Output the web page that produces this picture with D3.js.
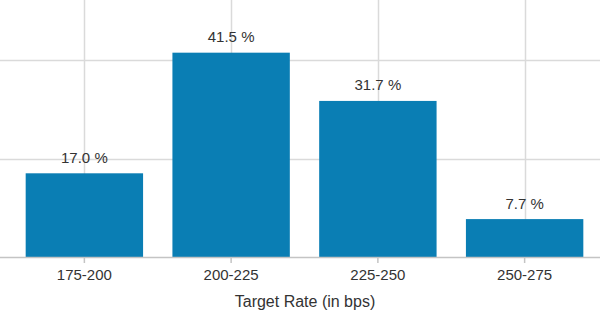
<!DOCTYPE html>
<html>
<head>
<meta charset="utf-8">
<script src="https://cdn.jsdelivr.net/npm/d3@7"></script>
<style>
  body { margin: 0; background: #fff; }
  text { font-family: "Liberation Sans", Arial, sans-serif; fill: #333; }
</style>
</head>
<body>
<script>
var categories = ["175-200", "200-225", "225-250", "250-275"];
var values = [17.0, 41.5, 31.7, 7.7];   // probability, percent
var gridValues = [20, 40];
var xTitle = "Target Rate (in bps)";

var width = 600, height = 318;
var baseY = 257;

var svg = d3.select("body").append("svg")
    .attr("width", width)
    .attr("height", height);

var x = d3.scaleBand()
    .domain(categories)
    .range([11, 598])
    .paddingInner(0.2)
    .paddingOuter(0.1);

var y = d3.scaleLinear()
    .domain([0, 52.2])
    .range([baseY, 0]);

// horizontal grid
svg.append("g")
    .selectAll("line")
    .data(gridValues)
    .enter().append("line")
    .attr("x1", 0).attr("x2", width)
    .attr("y1", function(d){ return Math.round(y(d)) + 0.5; })
    .attr("y2", function(d){ return Math.round(y(d)) + 0.5; })
    .attr("stroke", "#dadada")
    .attr("stroke-width", 1.5);

// vertical grid at category centres
svg.append("g")
    .selectAll("line")
    .data(categories)
    .enter().append("line")
    .attr("x1", function(d){ return Math.round(x(d) + x.bandwidth()/2) + 0.5; })
    .attr("x2", function(d){ return Math.round(x(d) + x.bandwidth()/2) + 0.5; })
    .attr("y1", 0).attr("y2", baseY)
    .attr("stroke", "#dadada")
    .attr("stroke-width", 1.5);

// bars
svg.append("g")
    .selectAll("rect")
    .data(values)
    .enter().append("rect")
    .attr("x", function(d, i){ return x(categories[i]); })
    .attr("width", x.bandwidth())
    .attr("y", function(d){ return y(d); })
    .attr("height", function(d){ return baseY - y(d); })
    .attr("fill", "#0a7eb4");

// value labels
svg.append("g")
    .selectAll("text")
    .data(values)
    .enter().append("text")
    .attr("x", function(d, i){ return x(categories[i]) + x.bandwidth()/2; })
    .attr("y", function(d){ return y(d) - 10.5; })
    .attr("text-anchor", "middle")
    .style("font-size", "15px")
    .text(function(d){ return d.toFixed(1) + " %"; });

// x axis
var xAxis = svg.append("g")
    .attr("transform", "translate(0," + baseY + ")")
    .call(d3.axisBottom(x).tickSize(6).tickPadding(6));
xAxis.select(".domain").remove();
xAxis.append("line")
    .attr("x1", 0).attr("x2", width)
    .attr("y1", 0.5).attr("y2", 0.5)
    .attr("stroke", "#c4c4c4")
    .attr("stroke-width", 1.5);
xAxis.selectAll(".tick line").attr("stroke", "#c4c4c4").attr("stroke-width", 1.5);
xAxis.selectAll(".tick text")
    .style("font-size", "15px")
    .style("font-family", "'Liberation Sans', Arial, sans-serif")
    .attr("fill", "#333");

svg.append("text")
    .attr("x", 305)
    .attr("y", 306.5)
    .attr("text-anchor", "middle")
    .style("font-size", "16px")
    .text(xTitle);
</script>
</body>
</html>
